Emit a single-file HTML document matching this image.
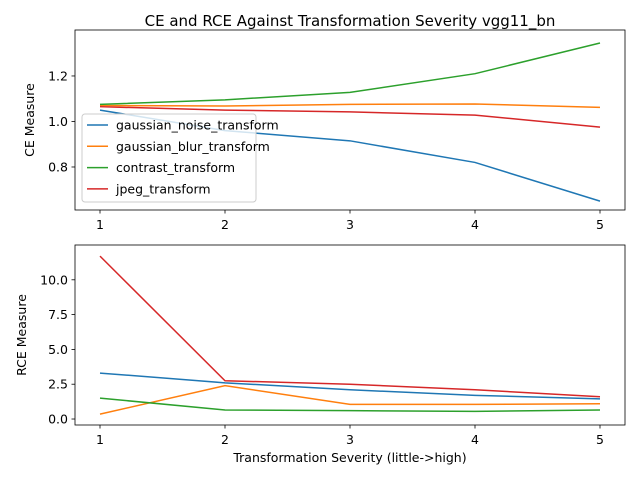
<!DOCTYPE html>
<html><head><meta charset="utf-8"><style>
body{margin:0;background:#fff;}
svg text{font-family:"DejaVu Sans","Liberation Sans",sans-serif;fill:#000;}
</style></head><body>
<svg id="chart" width="640" height="480" viewBox="0 0 640 480"></svg>
<script>
const categories=[1,2,3,4,5];
const seriesNames=["gaussian_noise_transform","gaussian_blur_transform","contrast_transform","jpeg_transform"];
const colors=["#1f77b4","#ff7f0e","#2ca02c","#d62728"];
const ceNoise=[1.05,0.96,0.915,0.82,0.65];
const ceBlur=[1.07,1.068,1.075,1.077,1.062];
const ceContrast=[1.075,1.095,1.128,1.21,1.345];
const ceJpeg=[1.065,1.05,1.042,1.028,0.975];
const rceNoise=[3.3,2.6,2.1,1.7,1.45];
const rceBlur=[0.35,2.4,1.05,1.05,1.1];
const rceContrast=[1.5,0.65,0.6,0.55,0.65];
const rceJpeg=[11.7,2.75,2.5,2.1,1.6];
const ceTicks=[0.8,1.0,1.2];
const ceTickLabels=["0.8","1.0","1.2"];
const rceTicks=[0,2.5,5,7.5,10];
const rceTickLabels=["0.0","2.5","5.0","7.5","10.0"];

const svg=document.getElementById('chart');
const NS="http://www.w3.org/2000/svg";
const FS=12.5;
function mk(tag,attrs,parent){const e=document.createElementNS(NS,tag);for(const k in attrs)e.setAttribute(k,attrs[k]);(parent||svg).appendChild(e);return e;}
function xs(v){return 100+(v-1)*125;}
function panel(top,bottom,ymin,ymax,series,ticks,tickLabels,ylabel,name,ylx){
  const ys=v=>bottom-(v-ymin)/(ymax-ymin)*(bottom-top);
  const g=mk('g',{});
  
  
  series.forEach((s,i)=>{
    const p=mk('polyline',{points:s.map((v,j)=>xs(categories[j])+','+ys(v)).join(' '),fill:'none',stroke:colors[i],'stroke-width':1.5},g);
    
    
  });
  const fr=mk('rect',{x:75,y:top,width:550,height:bottom-top,fill:'none',stroke:'#000','stroke-width':0.8},g);
  
  
  categories.forEach(c=>{
    mk('line',{x1:xs(c),x2:xs(c),y1:bottom,y2:bottom+3.5,stroke:'#000','stroke-width':0.8},g);
    const t=mk('text',{x:xs(c),y:bottom+19,'text-anchor':'middle','font-size':FS},g);t.textContent=c;
    
    
  });
  ticks.forEach((v,i)=>{
    mk('line',{x1:75,x2:71.5,y1:ys(v),y2:ys(v),stroke:'#000','stroke-width':0.8},g);
    const t=mk('text',{x:68,y:ys(v)+4.5,'text-anchor':'end','font-size':FS},g);t.textContent=tickLabels[i];
    
    
  });
  const yl=mk('text',{transform:`translate(${ylx},${(top+bottom)/2}) rotate(-90)`,'text-anchor':'middle','font-size':FS},g);
  yl.textContent=ylabel;
  
  
}
panel(30,210,0.611,1.402,[ceNoise,ceBlur,ceContrast,ceJpeg],ceTicks,ceTickLabels,'CE Measure','ce-panel',34);
panel(245,425,-0.43,12.5,[rceNoise,rceBlur,rceContrast,rceJpeg],rceTicks,rceTickLabels,'RCE Measure','rce-panel',26);
const title=mk('text',{x:350,y:26,'text-anchor':'middle','font-size':15});
title.textContent='CE and RCE Against Transformation Severity vgg11_bn';


const xl=mk('text',{x:350,y:462,'text-anchor':'middle','font-size':FS});
xl.textContent='Transformation Severity (little->high)';


const lg=mk('g',{});


mk('rect',{x:82,y:114,width:174,height:88,rx:3,fill:'#fff','fill-opacity':0.8,stroke:'#ccc'},lg);
seriesNames.forEach((n,i)=>{
  const y=125+i*21.3;
  mk('line',{x1:87,x2:108,y1:y,y2:y,stroke:colors[i],'stroke-width':1.5},lg);
  const t=mk('text',{x:116,y:y+4.5,'font-size':FS},lg);t.textContent=n;
  
  
});
</script>
</body></html>
